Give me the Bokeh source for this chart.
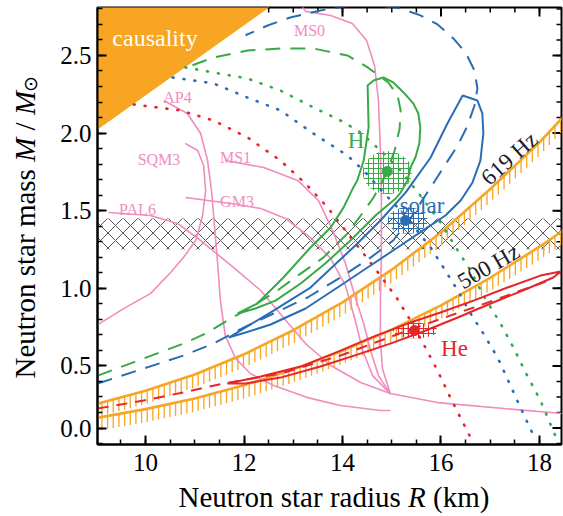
import numpy as np
from math import pi
from bokeh.plotting import figure
from bokeh.layouts import row, column
from bokeh.models import FixedTicker, Label, Range1d, NumeralTickFormatter
from bokeh.embed import file_html
from bokeh.resources import INLINE

# ---------------- data ----------------
causal_R = [9.0, 12.5]
causal_M = [2.02, 2.81]
band_M = [1.25, 1.45]

spin_R = [9.0, 10.0, 11.0, 12.0, 13.0, 14.0, 15.0, 16.0, 17.0, 18.0, 18.5]
spin619_M = [0.255, 0.34, 0.445, 0.575, 0.73, 0.91, 1.12, 1.36, 1.64, 1.94, 2.11]
spin500_M = [0.165, 0.222, 0.29, 0.375, 0.478, 0.597, 0.734, 0.89, 1.068, 1.268, 1.377]

# H atmosphere contour, dashed track, dotted curve
H_R = [11.87, 12.27, 12.80, 13.35, 13.76, 14.02, 14.22, 14.30, 14.43, 14.53, 14.51, 14.63, 14.83,
       15.03, 15.24, 15.44, 15.54, 15.58, 15.56, 15.48, 15.38, 15.32, 15.18, 15.08, 14.67, 14.16,
       13.65, 13.15, 12.64, 12.23, 11.87]
H_M = [0.838, 0.902, 1.07, 1.263, 1.392, 1.52, 1.65, 1.695, 1.823, 2.036, 2.307, 2.339, 2.358,
       2.326, 2.262, 2.19, 2.126, 2.036, 1.933, 1.843, 1.778, 1.695, 1.617, 1.579, 1.469, 1.308,
       1.160, 1.031, 0.921, 0.870, 0.838]
Hdash_R = [9.03, 10.77, 11.26, 11.66, 12.13, 12.68, 13.15, 13.61, 14.10, 14.37, 14.63, 14.87, 15.06,
           15.16, 15.18, 15.12, 14.93, 14.51, 14.10, 13.41, 12.74, 12.07, 11.38, 10.77]
Hdash_M = [0.438, 0.644, 0.715, 0.793, 0.876, 0.986, 1.095, 1.198, 1.353, 1.469, 1.585, 1.727, 1.888,
           2.03, 2.146, 2.242, 2.326, 2.423, 2.50, 2.545, 2.545, 2.532, 2.487, 2.416]
Hdot_R = [10.81, 11.38, 12.07, 12.74, 13.41, 13.96, 14.37, 14.77, 15.18, 15.58, 15.99, 16.34, 16.60,
          16.86, 17.21, 17.47, 17.75, 18.02, 18.32]
Hdot_M = [2.423, 2.39, 2.352, 2.274, 2.165, 2.081, 2.004, 1.888, 1.759, 1.598, 1.424, 1.244, 1.115,
          0.954, 0.773, 0.619, 0.438, 0.277, 0.052]

# solar composition
S_R = [11.69, 12.60, 13.35, 14.26, 14.77, 15.28, 15.79, 16.13, 16.44, 16.74, 16.84, 16.86, 16.80,
       16.64, 16.40, 16.09, 15.69, 15.18, 14.57, 13.96, 13.25, 12.54, 12.03, 11.69]
S_M = [0.683, 0.857, 1.005, 1.276, 1.437, 1.617, 1.843, 2.062, 2.242, 2.210, 2.126, 1.997, 1.823,
       1.682, 1.566, 1.469, 1.385, 1.276, 1.147, 1.018, 0.870, 0.767, 0.715, 0.683]
Sdash_R = [9.03, 10.77, 11.38, 11.99, 12.60, 13.29, 13.96, 14.57, 15.03, 15.42, 15.79, 16.05, 16.34,
           16.54, 16.68, 16.74, 16.68, 16.50, 16.25, 15.93, 15.58, 15.18, 14.67, 14.16, 13.55, 12.94,
           12.48, 12.03]
Sdash_M = [0.387, 0.567, 0.644, 0.747, 0.838, 0.941, 1.07, 1.198, 1.308, 1.469, 1.65, 1.778, 1.92,
           2.049, 2.178, 2.287, 2.403, 2.519, 2.61, 2.70, 2.758, 2.803, 2.822, 2.822, 2.79, 2.745,
           2.693, 2.63]
Sdot_R = [10.55, 11.38, 12.07, 12.74, 13.41, 14.10, 14.47, 14.83, 15.18, 15.48, 15.79, 16.05, 16.34,
          16.60, 16.86, 17.15, 17.41, 17.67, 17.88]
Sdot_M = [2.358, 2.32, 2.229, 2.146, 1.997, 1.856, 1.746, 1.617, 1.501, 1.385, 1.263, 1.134, 0.986,
          0.838, 0.709, 0.554, 0.374, 0.193, 0.052]

# He atmosphere
He_R = [11.66, 12.34, 13.15, 13.96, 14.63, 15.32, 15.99, 16.66, 17.35, 18.02, 18.43, 18.28, 17.76,
        17.01, 16.34, 15.64, 14.97, 14.30, 13.55, 12.74, 12.03, 11.66]
He_M = [0.387, 0.432, 0.496, 0.599, 0.689, 0.773, 0.844, 0.921, 1.005, 1.082, 1.108, 1.070, 0.999,
        0.902, 0.812, 0.722, 0.644, 0.573, 0.496, 0.425, 0.387, 0.387]
Hedash_R = [9.03, 9.96, 10.85, 11.58, 12.74, 13.96, 15.32, 16.66, 18.02, 18.28]
Hedash_M = [0.226, 0.277, 0.335, 0.387, 0.451, 0.567, 0.728, 0.876, 1.031, 1.063]
Hedot_R = [9.76, 10.71, 11.38, 12.07, 12.74, 13.25, 13.70, 14.06, 14.41, 14.77, 15.11, 15.38, 15.64,
           15.93, 16.19, 16.60]
Hedot_M = [2.184, 2.146, 2.081, 1.972, 1.823, 1.675, 1.52, 1.372, 1.231, 1.082, 0.934, 0.793, 0.644,
           0.47, 0.296, 0.039]

# best-fit points and their uncertainty blobs: (R, M, width in km, height in Msun)
best_R = [14.91, 15.28, 15.46]
best_M = [1.753, 1.437, 0.728]
blob_R = [14.91, 15.32, 15.48]
blob_M = [1.746, 1.437, 0.728]
blob_w = [1.00, 0.81, 0.90]
blob_h = [0.277, 0.17, 0.10]

# equations of state
MS0_R = [13.15, 13.25, 13.76, 14.20, 14.49, 14.65, 14.73, 14.77, 14.79, 14.79, 14.77, 14.77, 14.81,
         14.97, 15.93, 17.27, 18.47]
MS0_M = [2.83, 2.784, 2.758, 2.706, 2.597, 2.436, 2.210, 1.888, 1.566, 1.244, 0.921, 0.664, 0.483,
         0.322, 0.264, 0.226, 0.193]
MS1_R = [11.62, 12.40, 13.09, 13.51, 13.80, 14.06, 14.26, 14.43, 14.57, 14.73, 14.97]
MS1_M = [1.823, 1.778, 1.695, 1.566, 1.372, 1.160, 0.941, 0.773, 0.599, 0.438, 0.322]
GM3_R = [10.81, 11.73, 12.34, 12.84, 13.35, 13.76, 14.06, 14.26, 14.41, 14.61, 14.97]
GM3_M = [1.585, 1.546, 1.514, 1.450, 1.327, 1.192, 1.018, 0.793, 0.599, 0.438, 0.322]
PAL6_R = [9.25, 10.10, 10.65, 11.12, 11.79, 12.34, 12.80, 13.25, 13.76, 14.37, 14.97]
PAL6_M = [1.488, 1.469, 1.418, 1.308, 1.134, 0.986, 0.812, 0.644, 0.503, 0.393, 0.322]
AP4_R = [10.37, 10.85, 11.12, 11.26, 11.34, 11.40, 11.46, 11.52, 11.62, 11.83, 12.13, 12.60, 13.29,
         13.96, 14.77, 14.97]
AP4_M = [2.210, 2.126, 1.997, 1.823, 1.630, 1.405, 1.179, 0.921, 0.696, 0.548, 0.451, 0.374, 0.296,
         0.245, 0.213, 0.213]
SQM3_R = [9.00, 9.59, 10.10, 10.51, 10.77, 11.02, 11.16, 11.22, 11.18, 11.06, 10.81]
SQM3_M = [0.76, 0.876, 0.966, 1.102, 1.198, 1.308, 1.469, 1.630, 1.791, 1.888, 1.933]

xtick_vals = [10, 12, 14, 16, 18]
# the original prints its "0.0" label a little above the frame bottom, at the first major tick
ytick_vals = [0.1, 0.5, 1.0, 1.5, 2.0, 2.5]
ytick_labels = ["0.0", "0.5", "1.0", "1.5", "2.0", "2.5"]

# ---------------- styling ----------------
ORANGE = "#F7A523"
GREEN = "#38A947"
BLUE = "#2A6DB5"
RED = "#E6252B"
PINK = "#F08CBE"
SERIF = "Liberation Serif"

W, H = 563, 516
LW = 40           # width of the left strip holding the y title
BH = 34           # height of the bottom strip holding the x title
X0, X1 = 9.025, 18.447
Y0, Y1 = -0.006, 2.809
FL, FR, FT, FB = 97, 561, 7, 444   # frame edges in page pixels


def fx(px):
    return X0 + (px - FL) * (X1 - X0) / (FR - FL)


def fy(py):
    return Y0 + (FB - py) * (Y1 - Y0) / (FB - FT)


p = figure(width=W - LW, height=H - BH, x_range=Range1d(X0, X1), y_range=Range1d(Y0, Y1),
           output_backend="svg", toolbar_location=None,
           min_border_left=FL - LW, min_border_right=W - FR, min_border_top=FT,
           min_border_bottom=H - BH - FB)
p.grid.visible = False
p.background_fill_color = "white"
p.border_fill_color = "white"
p.outline_line_color = "black"
p.outline_line_width = 2

x_minor = list(np.round(np.arange(9.0, 18.51, 0.5), 2))
y_minor = list(np.round(np.arange(0.0, 2.81, 0.1), 2))
p.xaxis.ticker = FixedTicker(ticks=xtick_vals, minor_ticks=x_minor)
p.yaxis.ticker = FixedTicker(ticks=ytick_vals, minor_ticks=y_minor)
for ax in (p.xaxis[0], p.yaxis[0]):
    ax.axis_line_width = 2
    ax.axis_line_color = "black"
    ax.major_tick_in = 9
    ax.major_tick_out = 0
    ax.minor_tick_in = 5
    ax.minor_tick_out = 0
    ax.major_tick_line_width = 2
    ax.minor_tick_line_width = 1.5
    ax.major_tick_line_color = "black"
    ax.minor_tick_line_color = "black"
    ax.major_label_text_font = SERIF
    ax.major_label_text_font_size = "25px"
    ax.major_label_text_color = "black"
p.xaxis.major_label_standoff = 9
p.yaxis.major_label_standoff = 6
p.yaxis.formatter = NumeralTickFormatter(format="0.0")
p.yaxis.major_label_overrides = dict(zip(ytick_vals, ytick_labels))

# mirrored ticks on the top and right frame edges
dpx_x = (X1 - X0) / (FR - FL)
dpx_y = (Y1 - Y0) / (FB - FT)
for ticks, L, wdt in ((xtick_vals, 9, 2), (x_minor, 5, 1.5)):
    t = np.array(ticks, dtype=float)
    p.segment(t, Y1, t, Y1 - L * dpx_y, line_color="black", line_width=wdt)
for ticks, L, wdt in ((ytick_vals, 9, 2), (y_minor, 5, 1.5)):
    t = np.array(ticks, dtype=float)
    p.segment(X1, t, X1 - L * dpx_x, t, line_color="black", line_width=wdt)

# causality region
cx = [causal_R[0] - 0.5, causal_R[0], causal_R[1], causal_R[1], causal_R[0] - 0.5]
cy = [causal_M[0], causal_M[0], causal_M[1], 3.0, 3.0]
p.patch(cx, cy, fill_color=ORANGE, line_color=ORANGE, line_width=1)

# canonical mass band
p.quad(left=X0 - 1, right=X1 + 1, bottom=band_M[0], top=band_M[1], fill_alpha=0, line_alpha=0,
       hatch_pattern="diagonal_cross", hatch_color="#555555", hatch_scale=15, hatch_weight=1)

# spin limits with hatching below
hx = np.arange(9.0, 18.55, 0.115)
for mm in (spin619_M, spin500_M):
    hy = np.interp(hx, spin_R, mm)
    p.segment(hx, hy, hx, hy - 0.085, line_color=ORANGE, line_width=1.3)
    p.line(spin_R, mm, line_color=ORANGE, line_width=2.6)

# equations of state
for rr, mm in ((MS0_R, MS0_M), (MS1_R, MS1_M), (GM3_R, GM3_M), (PAL6_R, PAL6_M),
               (AP4_R, AP4_M), (SQM3_R, SQM3_M)):
    p.line(rr, mm, line_color=PINK, line_width=1.6)

# hatched uncertainty blobs
for i, c in enumerate((GREEN, BLUE, RED)):
    p.ellipse(x=[blob_R[i]], y=[blob_M[i]], width=[blob_w[i]], height=[blob_h[i]],
              fill_alpha=0, line_alpha=0, hatch_pattern="cross", hatch_color=c,
              hatch_scale=5, hatch_weight=1)

# dotted curves
for rr, mm, c in ((Hedot_R, Hedot_M, RED), (Sdot_R, Sdot_M, BLUE), (Hdot_R, Hdot_M, GREEN)):
    p.line(rr, mm, line_color=c, line_width=2.6, line_dash="1 10", line_cap="round")

# dashed tracks
p.line(Hdash_R, Hdash_M, line_color=GREEN, line_width=2, line_dash="15 10")
p.line(Sdash_R, Sdash_M, line_color=BLUE, line_width=2, line_dash="15 10")
p.line(Hedash_R, Hedash_M, line_color=RED, line_width=2, line_dash="11 8")

# solid contours
p.line(H_R, H_M, line_color=GREEN, line_width=2)
p.line(S_R, S_M, line_color=BLUE, line_width=2)
p.line(He_R, He_M, line_color=RED, line_width=2)

p.scatter(best_R, best_M, size=10, color=[GREEN, BLUE, RED])

# text labels inside the plot
texts = [
    ("causality", 154.5, 37, "white", "24px"),
    ("MS0", 309, 30, PINK, "16px"),
    ("AP4", 177, 97, PINK, "16px"),
    ("SQM3", 158.5, 159, PINK, "16px"),
    ("MS1", 235, 157, PINK, "16px"),
    ("GM3", 236.5, 201, PINK, "16px"),
    ("PAL6", 137, 209, PINK, "16px"),
    ("H", 355.5, 140, GREEN, "23px"),
    ("solar", 421.5, 205, BLUE, "23px"),
    ("He", 454, 348, RED, "23px"),
]
for t, px, py, c, s in texts:
    p.add_layout(Label(x=fx(px), y=fy(py), text=t, text_align="center",
                       text_baseline="alphabetic", text_font=SERIF, text_font_size=s,
                       text_color=c))

for t, px, py, ang in (("619 Hz", 509, 158, 42), ("500 Hz", 488, 266, 30)):
    p.add_layout(Label(x=fx(px), y=fy(py), text=t, text_align="center", text_baseline="middle",
                       angle=ang * pi / 180, text_font=SERIF, text_font_size="23px",
                       text_color="#1c1c2c"))

# ---------------- axis titles (with italic symbols) in two thin strips ----------------
# The strips get the same frame edges as the main plot, so that data units = page pixels.
FS = 29
em = FS / 1000.0
sp = 250 * em

xt = figure(width=W - LW, height=BH, x_range=Range1d(FL, FR), y_range=Range1d(H, H - BH),
            output_backend="svg", toolbar_location=None, x_axis_type=None, y_axis_type=None,
            min_border_left=FL - LW, min_border_right=W - FR, min_border_top=0,
            min_border_bottom=0)
xt.outline_line_color = None
xt.background_fill_color = "white"
xt.border_fill_color = "white"
x_start = 178
w1 = (7915 - 250) * em
pieces_x = [("Neutron star radius", x_start, "normal"),
            ("R", x_start + w1 + sp, "italic"),
            ("(km)", x_start + w1 + sp + 611 * em + sp, "normal")]
for t, px, st in pieces_x:
    xt.add_layout(Label(x=px, y=H - 20, text=t, text_align="left", text_baseline="alphabetic",
                        text_font=SERIF, text_font_size=f"{FS}px", text_font_style=st,
                        text_color="black"))

yt = figure(width=LW, height=H, x_range=Range1d(0, LW), y_range=Range1d(FB, FT),
            output_backend="svg", toolbar_location=None, x_axis_type=None, y_axis_type=None,
            min_border_left=0, min_border_right=0, min_border_top=FT, min_border_bottom=H - FB)
yt.outline_line_color = None
yt.background_fill_color = "white"
yt.border_fill_color = "white"
yb = 24
y_start = 378
w1y = 7221 * em
wM = 833 * em
wsl = 278 * em
py1 = y_start - w1y - sp
py2 = py1 - wM - sp
py3 = py2 - wsl - sp
pieces_y = [("Neutron star mass", y_start, "normal", yb, FS),
            ("M", py1, "italic", yb, FS),
            ("/", py2, "normal", yb, FS),
            ("M", py3, "italic", yb, FS),
            ("\u2299", py3 - wM + 1, "normal", yb + 6, 19)]
for t, py, st, bx, fs in pieces_y:
    yt.add_layout(Label(x=bx, y=py, text=t, text_align="left", text_baseline="alphabetic",
                        angle=pi / 2, text_font=SERIF, text_font_size=f"{fs}px",
                        text_font_style=st, text_color="black"))

page = row(yt, column(p, xt, spacing=0), spacing=0)
open("out.html", "w").write(file_html(page, INLINE))
